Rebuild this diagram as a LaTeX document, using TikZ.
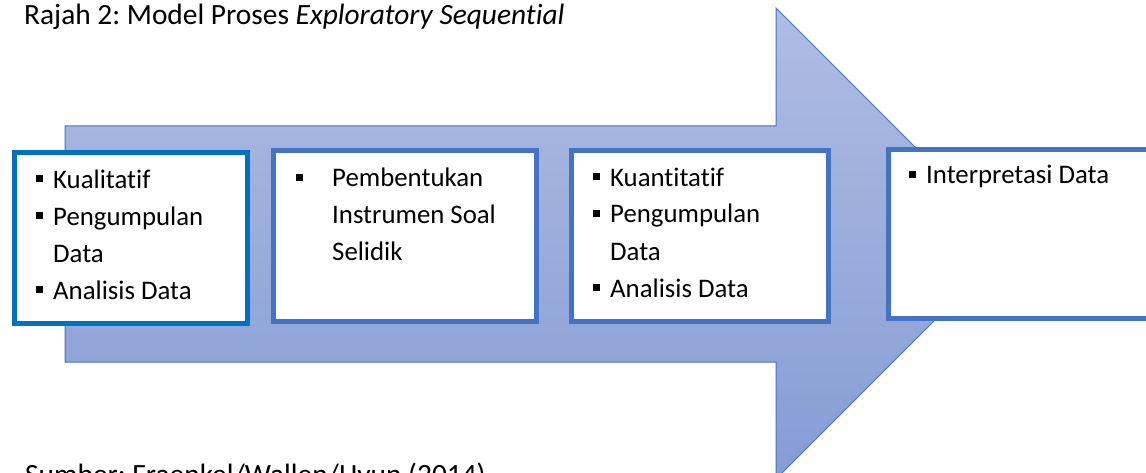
\documentclass[tikz,border=0pt]{standalone}
\usepackage{fontspec}
\setmainfont{Carlito}[Ligatures={NoCommon}]
\frenchspacing
\definecolor{arrowline}{HTML}{4472C4}
\definecolor{boxone}{HTML}{0070C0}
\definecolor{boxother}{HTML}{4472C4}
\definecolor{shadetop}{HTML}{B0BDE3}
\definecolor{shadebot}{HTML}{859CD4}
\newcommand{\bul}{\makebox[17pt][l]{\raisebox{6pt}{\rule{7pt}{7pt}}}}
\newcommand{\bulwide}{\makebox[36pt][l]{\raisebox{6pt}{\rule{7pt}{7pt}}}}
\tikzset{
  boxbase/.style={draw, line width=5pt, fill=white, rectangle, inner sep=0pt, anchor=north west},
  boxfirst/.style={boxbase, draw=boxone},
  boxrest/.style={boxbase, draw=boxother},
  txt/.style={inner sep=0pt, anchor=base west, align=left, font=\fontsize{26.8pt}{37pt}\selectfont},
  captxt/.style={inner sep=0pt, anchor=base west, font=\fontsize{29.4pt}{36pt}\selectfont},
}
\begin{document}
\begin{tikzpicture}[x=1pt,y=-1pt]
\useasboundingbox (0,0) rectangle (1146,473);
\clip (0,0) rectangle (1146,473);
% big arrow
\path[top color=shadetop, bottom color=shadebot, draw=arrowline, line width=1pt]
  (65,126) -- (776,126) -- (776,8) -- (1011.5,243.5) -- (776,479) -- (776,362) -- (65,362) -- cycle;
% boxes
\node[boxfirst, minimum width=233pt, minimum height=170pt] (b1) at (11.5,150.5) {};
\node[boxrest, minimum width=263pt, minimum height=170pt] (b2) at (270.5,148.5) {};
\node[boxrest, minimum width=257pt, minimum height=170pt] (b3) at (568.5,148.5) {};
\node[boxrest, minimum width=320pt, minimum height=168pt] (b4) at (885.5,147.5) {};
% texts (anchor = baseline of last line)
\node[txt] (t1) at (36,299) {\bul Kualitatif\\\bul Pengumpulan\\\hspace*{17pt}Data\\\bul Analisis Data};
\node[txt] (t2) at (296,261) {\bulwide Pembentukan\\\hspace*{36pt}Instrumen Soal\\\hspace*{36pt}Selidik};
\node[txt] (t3) at (593,297) {\bul Kuantitatif\\\bul Pengumpulan\\\hspace*{17pt}Data\\\bul Analisis Data};
\node[txt] (t4) at (909,184) {\bul Interpretasi Data};
% title and source
\node[captxt] (title) at (24,25) {Rajah 2: Model Proses \textit{Exploratory Sequential}};
\node[captxt] (src) at (25,484) {Sumber: Fraenkel/Wallen/Hyun (2014)};
\end{tikzpicture}
\end{document}
